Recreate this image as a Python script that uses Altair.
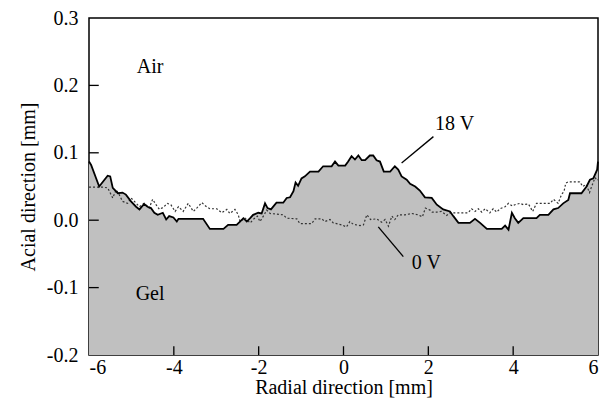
import altair as alt
import pandas as pd

# 18 V profile (solid line, gel surface)
x18 = [-6.00, -5.95, -5.76, -5.56, -5.50, -5.44, -5.32, -5.21, -5.13, -5.01,
       -4.89, -4.81, -4.70, -4.62, -4.54, -4.46, -4.38, -4.26, -4.18, -4.11,
       -4.01, -3.93, -3.89, -3.31, -3.15, -2.83, -2.72, -2.52, -2.44, -2.36,
       -2.28, -2.20, -2.13, -2.01, -1.93, -1.85, -1.79, -1.71, -1.58, -1.42,
       -1.34, -1.26, -1.18, -1.13, -1.07, -0.99, -0.91, -0.79, -0.59, -0.48,
       -0.28, -0.20, -0.12, 0.04, 0.11, 0.19, 0.27, 0.35, 0.43, 0.51,
       0.62, 0.70, 0.78, 0.86, 0.95, 1.10, 1.21, 1.29, 1.37, 1.49,
       1.57, 1.69, 1.80, 1.92, 2.08, 2.20, 2.35, 2.51, 2.59, 2.71,
       2.98, 3.10, 3.22, 3.38, 3.73, 3.81, 3.89, 3.97, 4.04, 4.12,
       4.24, 4.55, 4.63, 4.83, 4.95, 5.06, 5.18, 5.30, 5.34, 5.61,
       5.73, 5.81, 5.89, 5.98, 6.00]
y18 = [0.087, 0.082, 0.050, 0.066, 0.065, 0.048, 0.040, 0.041, 0.038, 0.028,
       0.020, 0.016, 0.024, 0.020, 0.018, 0.011, 0.008, 0.011, 0.001, 0.006,
       0.004, -0.002, 0.002, 0.002, -0.013, -0.013, -0.007, -0.007, -0.002, 0.003,
       -0.002, 0.003, 0.008, 0.011, 0.010, 0.025, 0.018, 0.016, 0.026, 0.026,
       0.033, 0.034, 0.043, 0.056, 0.051, 0.062, 0.065, 0.072, 0.072, 0.080,
       0.080, 0.087, 0.081, 0.081, 0.087, 0.095, 0.090, 0.096, 0.089, 0.089,
       0.096, 0.096, 0.089, 0.087, 0.072, 0.072, 0.080, 0.075, 0.065, 0.060,
       0.054, 0.050, 0.044, 0.034, 0.033, 0.023, 0.016, 0.013, 0.006, -0.004,
       -0.004, 0.002, -0.004, -0.013, -0.013, -0.008, -0.014, 0.011, 0.003, -0.004,
       0.003, 0.003, 0.008, 0.008, 0.016, 0.018, 0.025, 0.030, 0.040, 0.040,
       0.050, 0.060, 0.062, 0.075, 0.087]

# 0 V profile (dotted line)
x0 = [-6.00, -5.68, -5.56, -5.44, -5.36, -5.29, -5.21, -5.09, -5.01, -4.93,
      -4.81, -4.70, -4.58, -4.50, -4.42, -4.34, -4.25, -4.15, -4.07, -3.97,
      -3.89, -3.78, -3.66, -3.54, -3.46, -3.34, -3.23, -3.15, -2.99, -2.87,
      -2.75, -2.68, -2.56, -2.48, -2.44, -2.32, -2.20, -2.13, -2.03, -1.97,
      -1.89, -1.81, -1.73, -1.42, -1.34, -1.10, -1.03, -0.75, -0.67, -0.51,
      -0.44, -0.32, -0.24, -0.04, 0.07, 0.15, 0.23, 0.39, 0.47, 0.55,
      0.64, 0.78, 0.90, 0.98, 1.06, 1.14, 1.21, 1.29, 1.45, 1.61,
      1.76, 1.86, 1.93, 2.04, 2.09, 2.20, 2.31, 2.43, 2.51, 2.94,
      3.02, 3.10, 3.18, 3.26, 3.34, 3.45, 3.53, 3.61, 3.69, 3.81,
      3.89, 3.98, 4.04, 4.16, 4.24, 4.36, 4.46, 4.55, 4.87, 4.95,
      5.06, 5.14, 5.20, 5.24, 5.30, 5.57, 5.64, 5.72, 5.80, 5.85,
      5.93, 5.98, 6.00]
y0 = [0.049, 0.049, 0.048, 0.033, 0.045, 0.038, 0.028, 0.025, 0.033, 0.028,
      0.020, 0.025, 0.018, 0.031, 0.023, 0.016, 0.019, 0.025, 0.023, 0.013,
      0.020, 0.013, 0.025, 0.013, 0.018, 0.026, 0.020, 0.017, 0.017, 0.011,
      0.016, 0.010, 0.016, 0.008, -0.002, 0.003, -0.004, 0.001, 0.006, -0.002,
      0.006, 0.015, 0.010, 0.008, 0.003, 0.002, -0.005, -0.005, 0.002, 0.002,
      -0.002, 0.001, -0.004, -0.007, -0.010, -0.002, -0.006, -0.008, -0.007, 0.008,
      0.001, 0.002, -0.003, 0.001, -0.009, 0.006, 0.001, 0.008, 0.008, 0.010,
      0.008, 0.005, 0.018, 0.015, 0.012, 0.012, 0.013, 0.007, 0.011, 0.011,
      0.017, 0.013, 0.017, 0.012, 0.017, 0.011, 0.017, 0.012, 0.017, 0.020,
      0.025, 0.021, 0.023, 0.025, 0.023, 0.024, 0.013, 0.025, 0.025, 0.031,
      0.025, 0.038, 0.043, 0.055, 0.057, 0.057, 0.050, 0.053, 0.041, 0.050,
      0.063, 0.059, 0.060]

x_ticks = [-4, -2, 0, 2, 4]
y_ticks = [-0.1, 0.0, 0.1, 0.2]
x_labels = [-6, -4, -2, 0, 2, 4, 6]
y_labels = [-0.2, -0.1, 0.0, 0.1, 0.2, 0.3]

region_text = ["Air", "Gel"]
region_x = [-4.56, -4.56]
region_y = [0.228, -0.109]

curve_text = ["18 V", "0 V"]
curve_x = [2.16, 1.61]
curve_y = [0.142, -0.063]

leader_x = [1.37, 0.82]
leader_y = [0.085, -0.010]
leader_x2 = [2.12, 1.41]
leader_y2 = [0.124, -0.054]

FONT = "Liberation Serif"
FS = 20

xs = alt.Scale(domain=[-6, 6], nice=False, zero=False)
ys = alt.Scale(domain=[-0.2, 0.3], nice=False, zero=False)

df18 = pd.DataFrame({"x": x18, "y": y18})
df0 = pd.DataFrame({"x": x0, "y": y0})

x_axis = alt.Axis(values=x_labels, title="Radial direction [mm]", grid=False, ticks=False,
                  domain=False, labelPadding=2, titlePadding=0,
                  labelExpr="datum.value < 0 ? '-' + format(-datum.value, 'd') : format(datum.value, 'd')")
y_axis = alt.Axis(values=y_labels, title="Acial direction [mm]", grid=False, ticks=False,
                  domain=False, labelPadding=11, titlePadding=8,
                  labelExpr="datum.value < 0 ? '-' + format(-datum.value, '.1f') : format(datum.value, '.1f')")

area = alt.Chart(df18).mark_area(color="#c0c0c0", opacity=1).encode(
    x=alt.X("x:Q", scale=xs, axis=x_axis),
    y=alt.Y("y:Q", scale=ys, axis=y_axis),
    y2=alt.datum(-0.2),
)

dotted = alt.Chart(df0).mark_line(color="#333333", strokeWidth=1.2, strokeDash=[2, 2]).encode(
    x=alt.X("x:Q", scale=xs), y=alt.Y("y:Q", scale=ys)
)

solid = alt.Chart(df18).mark_line(color="black", strokeWidth=1.8).encode(
    x=alt.X("x:Q", scale=xs), y=alt.Y("y:Q", scale=ys)
)

xt = alt.Chart(pd.DataFrame({"t": x_ticks})).mark_rule(color="black", strokeWidth=1.3).encode(
    x=alt.X("t:Q", scale=xs), y=alt.datum(-0.2), y2=alt.datum(-0.187)
)
yt = alt.Chart(pd.DataFrame({"t": y_ticks})).mark_rule(color="black", strokeWidth=1.3).encode(
    y=alt.Y("t:Q", scale=ys), x=alt.datum(-6), x2=alt.datum(-5.77)
)

leaders = alt.Chart(pd.DataFrame({"x": leader_x, "y": leader_y, "x2": leader_x2, "y2": leader_y2})).mark_rule(
    color="black", strokeWidth=1.3
).encode(
    x=alt.X("x:Q", scale=xs), y=alt.Y("y:Q", scale=ys), x2="x2:Q", y2="y2:Q"
)

region_labels = alt.Chart(pd.DataFrame({"t": region_text, "x": region_x, "y": region_y})).mark_text(
    font=FONT, fontSize=FS, align="center", baseline="middle", color="black"
).encode(x=alt.X("x:Q", scale=xs), y=alt.Y("y:Q", scale=ys), text="t:N")

curve_labels = alt.Chart(pd.DataFrame({"t": curve_text, "x": curve_x, "y": curve_y})).mark_text(
    font=FONT, fontSize=FS, align="left", baseline="middle", color="black"
).encode(x=alt.X("x:Q", scale=xs), y=alt.Y("y:Q", scale=ys), text="t:N")

chart = alt.layer(area, dotted, solid, xt, yt, leaders, region_labels, curve_labels).properties(
    width=509, height=337,
    autosize=alt.AutoSizeParams(type="none"),
    padding={"left": 81, "top": 10, "right": 2, "bottom": 54},
).configure_view(
    stroke="black", strokeWidth=1.5
).configure_axis(
    labelFont=FONT, titleFont=FONT, labelFontSize=FS, titleFontSize=FS,
    labelColor="black", titleColor="black", titleFontWeight="normal"
)

chart.save("out.html", embed_options={"renderer": "svg", "actions": False})
